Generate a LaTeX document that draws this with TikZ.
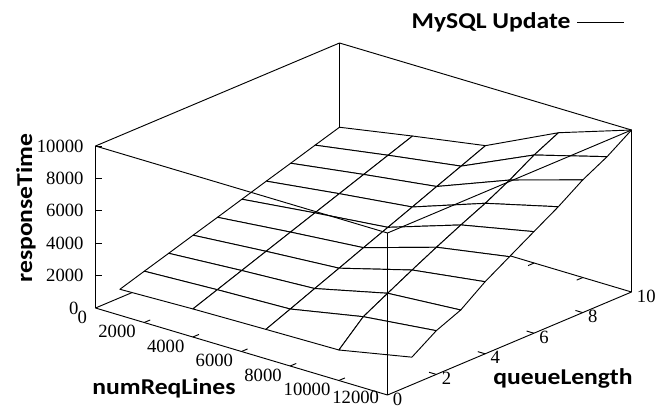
\documentclass[tikz,border=0pt]{standalone}
\usepackage{fontspec}
\setmainfont{Liberation Serif}
\newfontfamily\labelfont{Carlito}[FakeStretch=1.13]
\tikzset{
  ticklabel/.style={inner sep=0pt,font=\fontsize{14}{16}\selectfont},
  axislabel/.style={inner sep=0pt,font=\labelfont\bfseries\fontsize{17}{20}\selectfont},
  ztick/.style={ticklabel,anchor=east,xshift=-8.6pt},
  xtick/.style={ticklabel,anchor=east,xshift=-6pt,yshift=-6.75pt},
  qtick/.style={ticklabel,anchor=west,xshift=3.75pt,yshift=-3pt},
  meshcell/.style={fill=white,draw=black}
}
\begin{document}
\begin{tikzpicture}[x=0.75pt,y=-0.75pt,line width=0.7pt,line join=round]
\useasboundingbox (0,0) rectangle (664,408);
\node[axislabel,anchor=base east] (title) at (571,28) {MySQL Update};
\coordinate (keya) at (577,22);
\coordinate (keyb) at (624,22);
\draw (keya) -- (keyb);
\node[axislabel,anchor=base west,rotate=90] (zname) at (32,283) {responseTime};
\node[axislabel,anchor=base west] (xname) at (92,394) {numReqLines};
\node[axislabel,anchor=base west] (qname) at (493,384) {queueLength};
\begin{scope}[shift={(95.5,308)},x={(18.25pt,-5.4375pt)},y={(18.3pt,7.725pt)},z={(0pt,12.15pt)}]
  \draw (0,0,0) -- (0,10,0) -- (12,10,0);
  \draw (0,10,0) -- (0,10,10);
  \foreach \x in {2,4,...,10} \draw (\x,10,0) -- ++(0,-0.25,0);
  \foreach \q in {2,4,...,8} \draw (0,\q,0) -- ++(0.3,0,0);
  \foreach \q/\za/\zb/\zc/\zd/\ze in {
      1/0.52/0.65/0.73/0.80/1.70,
      2/1.00/1.20/1.35/2.22/2.70,
      3/1.47/1.75/1.98/3.03/3.34,
      4/1.95/2.30/2.60/3.83/4.45,
      5/2.42/2.85/3.23/4.60/5.36,
      6/2.90/3.40/3.85/5.34/6.27,
      7/3.38/3.95/4.47/6.04/7.17,
      8/3.85/4.50/5.10/6.84/8.19,
      9/4.33/5.05/5.72/7.75/8.99,
      10/4.80/5.60/6.35/8.49/10.00}{
    \coordinate (s-\q-0) at (0,\q,\za);
    \coordinate (s-\q-1) at (3,\q,\zb);
    \coordinate (s-\q-2) at (6,\q,\zc);
    \coordinate (s-\q-3) at (9,\q,\zd);
    \coordinate (s-\q-4) at (12,\q,\ze);
  }
  \foreach \j in {9,...,1}
    \foreach \i in {0,...,3}{
      \pgfmathtruncatemacro{\jb}{\j+1}
      \pgfmathtruncatemacro{\ib}{\i+1}
      \filldraw[meshcell] (s-\j-\i) -- (s-\j-\ib) -- (s-\jb-\ib) -- (s-\jb-\i) -- cycle;
    }
  \draw (0,0,0) -- (12,0,0) -- (12,10,0);
  \draw (0,0,0) -- (0,0,10);
  \draw (12,0,0) -- (12,0,10);
  \draw (12,10,0) -- (12,10,10);
  \draw (0,0,10) -- (0,10,10) -- (12,10,10) -- (12,0,10) -- cycle;
  \foreach \x in {2,4,...,10} \draw (\x,0,0) -- ++(0,0.25,0);
  \foreach \q in {2,4,...,8} \draw (12,\q,0) -- ++(-0.3,0,0);
  \foreach \v in {2,4,...,10} \draw (0,0,\v) -- ++(4.5pt,0pt);
  \node[ztick] (zt10) at (0,0,10) {10000};
  \node[ztick] (zt8) at (0,0,8) {8000};
  \node[ztick] (zt6) at (0,0,6) {6000};
  \node[ztick] (zt4) at (0,0,4) {4000};
  \node[ztick] (zt2) at (0,0,2) {2000};
  \node[ztick,xshift=-3.8pt] (zt0) at (0,0,0) {0};
  \node[xtick] (xt0) at (0,0,0) {0};
  \node[xtick] (xt2) at (2,0,0) {2000};
  \node[xtick] (xt4) at (4,0,0) {4000};
  \node[xtick] (xt6) at (6,0,0) {6000};
  \node[xtick] (xt8) at (8,0,0) {8000};
  \node[xtick] (xt10) at (10,0,0) {10000};
  \node[xtick,yshift=5pt] (xt12) at (12,0,0) {12000};
  \node[qtick] (qt0) at (12,0,0) {0};
  \node[qtick] (qt2) at (12,2,0) {2};
  \node[qtick] (qt4) at (12,4,0) {4};
  \node[qtick] (qt6) at (12,6,0) {6};
  \node[qtick] (qt8) at (12,8,0) {8};
  \node[qtick] (qt10) at (12,10,0) {10};
\end{scope}
\end{tikzpicture}
\end{document}
